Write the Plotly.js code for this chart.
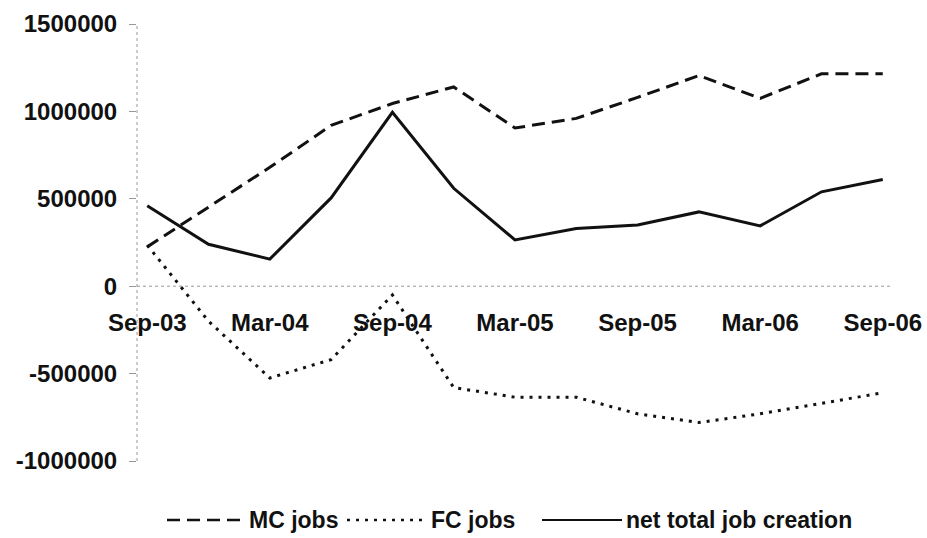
<!DOCTYPE html>
<html>
<head>
<meta charset="utf-8">
<script src="https://cdn.plot.ly/plotly-3.0.1.min.js"></script>
<style>html,body{margin:0;padding:0;background:#fff;}#chart{width:927px;height:538px;}</style>
</head>
<body>
<div id="chart"></div>
<script>
// Quarterly categories
const quarters = ["Sep-03","Dec-03","Mar-04","Jun-04","Sep-04","Dec-04","Mar-05","Jun-05","Sep-05","Dec-05","Mar-06","Jun-06","Sep-06"];
// Series values
const mcJobs  = [225000, 450000, 680000, 920000, 1045000, 1140000, 905000, 960000, 1080000, 1205000, 1075000, 1215000, 1215000];
const fcJobs  = [235000, -200000, -525000, -420000, -50000, -580000, -635000, -635000, -730000, -780000, -730000, -670000, -610000];
const netJobs = [460000, 240000, 155000, 505000, 995000, 560000, 265000, 330000, 350000, 425000, 345000, 540000, 610000];
// Series names
const seriesNames = ["MC jobs", "FC jobs", "net total job creation"];
// Y tick values and labels
const yTickVals = [-1000000, -500000, 0, 500000, 1000000, 1500000];
const yTickText = ["-1000000", "-500000", "0", "500000", "1000000", "1500000"];

const FONT = "'Liberation Sans', Arial, sans-serif";
const INK = "#111";

const traces = [
  {x: quarters, y: mcJobs, name: seriesNames[0], type: "scatter", mode: "lines",
   line: {color: INK, width: 3, dash: "13px,7px"}},
  {x: quarters, y: fcJobs, name: seriesNames[1], type: "scatter", mode: "lines",
   line: {color: INK, width: 3, dash: "3px,6px"}},
  {x: quarters, y: netJobs, name: seriesNames[2], type: "scatter", mode: "lines",
   line: {color: INK, width: 3}}
];

function px2paper(p){ return (p - 137) / 756; }
const legY = (461 - 520) / 437;
const legendDefs = [
  {x0: 167, x1: 245, tx: 247, dash: "13px,7px"},
  {x0: 347, x1: 427, tx: 429, dash: "3px,6px"},
  {x0: 542, x1: 622, tx: 624, dash: "solid"}
];

const shapes = [
  // x axis line at zero (dotted grey)
  {type: "line", xref: "paper", yref: "y", x0: 0, x1: 1, y0: 0, y1: 0,
   line: {color: "#999", width: 1, dash: "dot"}, layer: "below"},
  // y axis line
  {type: "line", xref: "paper", yref: "paper", x0: 0, x1: 0, y0: 0, y1: 1,
   line: {color: "#999", width: 1, dash: "dot"}, layer: "below"}
];
const annotations = [];
legendDefs.forEach((d, i) => {
  shapes.push({type: "line", xref: "paper", yref: "paper",
    x0: px2paper(d.x0), x1: px2paper(d.x1), y0: legY, y1: legY,
    line: {color: INK, width: i === 2 ? 2 : 2.5, dash: d.dash}});
  annotations.push({xref: "paper", yref: "paper", x: px2paper(d.tx), y: legY,
    xanchor: "left", yanchor: "middle", showarrow: false, text: seriesNames[i],
    font: {family: FONT, size: 23, color: INK, weight: "bold"}});
});

const layout = {
  width: 927, height: 538,
  margin: {l: 137, r: 34, t: 24, b: 77},
  paper_bgcolor: "#fff", plot_bgcolor: "#fff",
  showlegend: false,
  font: {family: FONT, size: 24, color: INK, weight: "bold"},
  xaxis: {
    type: "category",
    range: [-1/6, 12 + 1/6],
    tickmode: "linear", tick0: 0, dtick: 2,
    anchor: "free", position: 0.4,
    showgrid: false, zeroline: false, showline: false,
    ticks: "", ticklabelstandoff: 20,
    tickangle: 0,
    tickfont: {family: FONT, size: 24, color: INK, weight: "bold"}
  },
  yaxis: {
    range: [-1000000, 1500000],
    tickmode: "array", tickvals: yTickVals, ticktext: yTickText,
    showgrid: false, zeroline: false, showline: false,
    ticks: "outside", ticklen: 7, tickcolor: "#999", tickwidth: 1,
    ticklabelstandoff: 7,
    tickfont: {family: FONT, size: 24, color: INK, weight: "bold"}
  },
  shapes: shapes,
  annotations: annotations
};

Plotly.newPlot("chart", traces, layout, {displayModeBar: false, staticPlot: true});
</script>
</body>
</html>
